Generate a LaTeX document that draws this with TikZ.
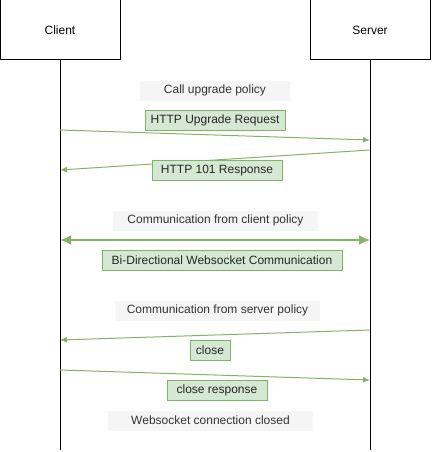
\documentclass[tikz,border=0pt]{standalone}
\usepackage{fontspec}
\setmainfont{Liberation Sans}
\usetikzlibrary{arrows.meta,positioning}
\definecolor{cmsg}{HTML}{D5E8D4}
\definecolor{cmsgline}{HTML}{82B366}
\definecolor{cnote}{HTML}{F5F5F5}
\definecolor{cnotetext}{HTML}{333333}

\begin{document}
\begin{tikzpicture}[x=1pt,y=-1pt,>={Latex[length=7pt,width=6pt]},
  actor/.style={draw,line width=1pt,minimum width=120pt,minimum height=60pt,inner sep=0pt},
  note/.style={fill=cnote,text=cnotetext,minimum width=#1,minimum height=20pt,inner sep=0pt},
  msg/.style={fill=cmsg,draw=cmsgline,line width=1pt,text=black!85,minimum width=#1,minimum height=20pt,inner sep=0pt},
  call/.style={->,cmsgline,line width=1pt},
  every node/.style={font=\fontsize{12}{14}\selectfont}]
\useasboundingbox (0,0) rectangle (431,452);

% ===== lifelines =====
\node[actor] (client) at (60,30) {Client};
\node[actor] (server) at (370,30) {Server};
\coordinate (cend) at (60,450);
\coordinate (send) at (370,450);
\draw[line width=1pt] (client.south) -- (cend);
\draw[line width=1pt] (server.south) -- (send);

% ===== message end points =====
\foreach \n/\x/\y in {c1/60/130,s1/370/140,s2/370/150,c2/60/170,c3/60/240,s3/370/240,
                      s4/370/330,c4/60/340,c5/60/370,s5/370/380}{
  \coordinate (\n) at (\x,\y);
}
\draw[call] (c1) -- (s1);
\draw[call] (s2) -- (c2);
\draw[call,{Latex[length=11pt,width=10pt]}-{Latex[length=11pt,width=10pt]},line width=2pt] (c3) -- (s3);
\draw[call] (s4) -- (c4);
\draw[call] (c5) -- (s5);

% ===== policy notes =====
\node[note=150pt] (upgrade) at (215,90.5) {Call upgrade policy};
\node[note=205pt] (fromclient) at (215.5,220.5) {Communication from client policy};
\node[note=205pt] (fromserver) at (217.5,310.5) {Communication from server policy};
\node[note=205pt] (closed) at (210.5,420.5) {Websocket connection closed};

% ===== message labels =====
\node[msg=140pt] (req) at (215,120.5) {HTTP Upgrade Request};
\node[msg=130pt] (resp) at (217,170.5) {HTTP 101 Response};
\node[msg=240pt] (bidir) at (222,260.5) {Bi-Directional Websocket Communication};
\node[msg=40pt] (close) at (210,350.5) {close};
\node[msg=100pt] (closeresp) at (217,390.5) {close response};
\end{tikzpicture}
\end{document}
